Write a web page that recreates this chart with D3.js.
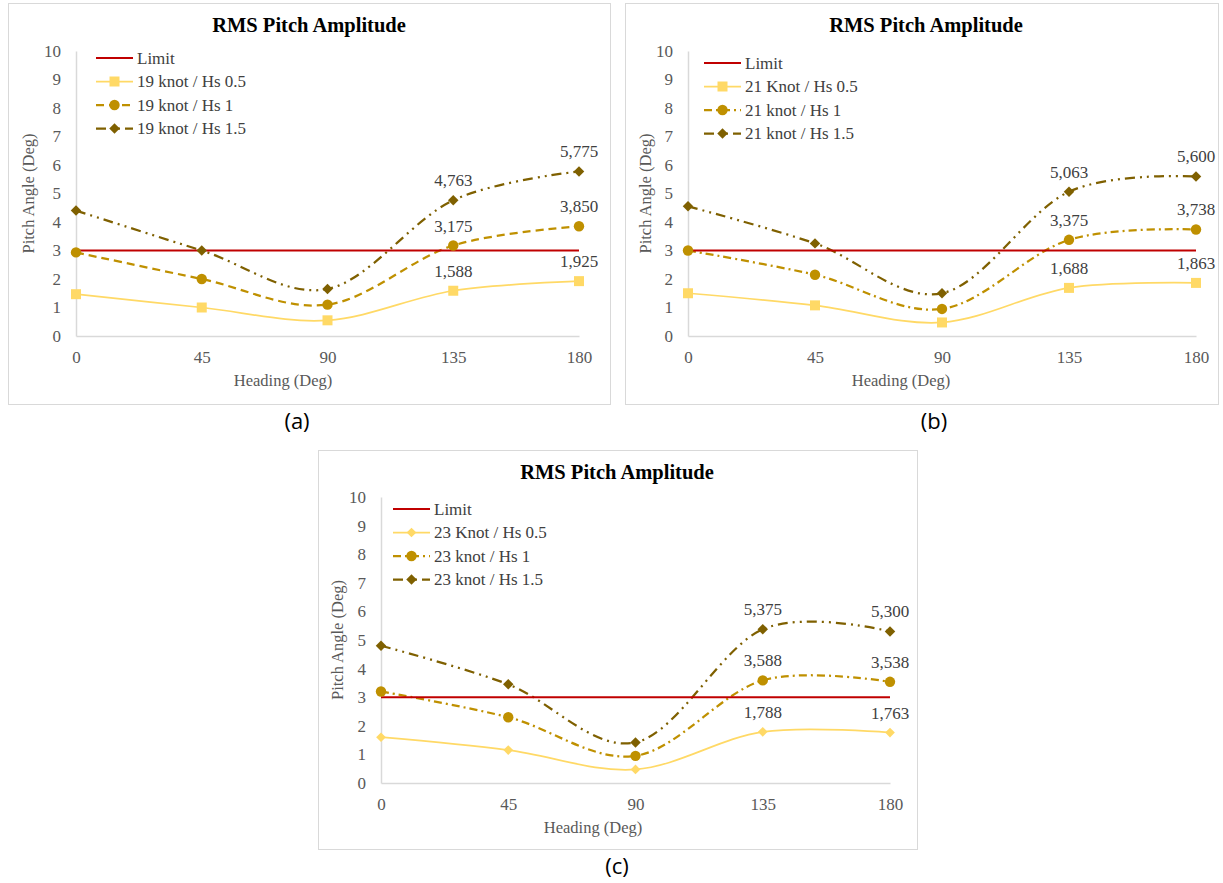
<!DOCTYPE html>
<html>
<head>
<meta charset="utf-8">
<script src="https://cdn.jsdelivr.net/npm/d3@7"></script>
<style>
  body { margin: 0; background: #fff; }
  svg { display: block; }
  .tick-label { font-family: "Liberation Serif", serif; font-size: 17px; fill: #595959; }
  .axis-title { font-family: "Liberation Serif", serif; font-size: 16.5px; fill: #595959; }
  .chart-title { font-family: "Liberation Serif", serif; font-size: 20.5px; font-weight: bold; fill: #000; }
  .legend-text { font-family: "Liberation Serif", serif; font-size: 17px; fill: #404040; }
  .data-label { font-family: "Liberation Serif", serif; font-size: 17px; fill: #404040; }
  .caption { font-family: "Open Sans", sans-serif; font-size: 22px; fill: #000; }
</style>
</head>
<body>
<svg id="fig" width="1223" height="883"></svg>
<script>
/* ---------- data ---------- */
const headings = [0, 45, 90, 135, 180];
const yTickValues = [0, 1, 2, 3, 4, 5, 6, 7, 8, 9, 10];
const limitValues = [3, 3, 3, 3, 3];

// (a) 19 knot
const knot19Hs05 = [1.467, 1.0, 0.55, 1.588, 1.925];
const knot19Hs1 = [2.933, 2.0, 1.1, 3.175, 3.85];
const knot19Hs15 = [4.4, 3.0, 1.65, 4.763, 5.775];
const names19 = ["Limit", "19 knot / Hs 0.5", "19 knot / Hs 1", "19 knot / Hs 1.5"];

// (b) 21 knot
const knot21Hs05 = [1.5, 1.075, 0.475, 1.688, 1.863];
const knot21Hs1 = [3.0, 2.15, 0.95, 3.375, 3.738];
const knot21Hs15 = [4.55, 3.25, 1.5, 5.063, 5.6];
const names21 = ["Limit", "21 Knot / Hs 0.5", "21 knot / Hs 1", "21 knot / Hs 1.5"];

// (c) 23 knot
const knot23Hs05 = [1.6, 1.15, 0.475, 1.788, 1.763];
const knot23Hs1 = [3.2, 2.3, 0.95, 3.588, 3.538];
const knot23Hs15 = [4.8, 3.45, 1.42, 5.375, 5.3];
const names23 = ["Limit", "23 Knot / Hs 0.5", "23 knot / Hs 1", "23 knot / Hs 1.5"];

const labelledHeadings = [135, 180];

/* ---------- styles ---------- */
const colLimit = "#c00000", col05 = "#ffd966", col1 = "#bf9000", col15 = "#7f6000";
const dashDash = "8,5", dashDot = "8,4,2,4", dashDotDot = "10,5,2,5,2,5";

/* ---------- panel layout ---------- */
const panels = [
  { frame: [8, 3, 602, 401], plot: { left: 76, right: 579, top: 51, bottom: 336 },
    titleX: 309, titleY: 32, xTitleX: 283, yTitleX: 28, legendX: 96, legendY: 58,
    caption: "(a)", capX: 297, capY: 429,
    series: [
      { name: names19[0], values: limitValues, color: colLimit, width: 2, dash: null, marker: null },
      { name: names19[1], values: knot19Hs05, color: col05, width: 1.75, dash: null, marker: "square" },
      { name: names19[2], values: knot19Hs1, color: col1, width: 2.25, dash: dashDash, marker: "circle" },
      { name: names19[3], values: knot19Hs15, color: col15, width: 2.25, dash: dashDotDot, marker: "diamond" }
    ] },
  { frame: [625, 3, 593, 401], plot: { left: 688, right: 1196, top: 51, bottom: 336 },
    titleX: 926, titleY: 32, xTitleX: 901, yTitleX: 645, legendX: 704, legendY: 63,
    caption: "(b)", capX: 934, capY: 429,
    series: [
      { name: names21[0], values: limitValues, color: colLimit, width: 2, dash: null, marker: null },
      { name: names21[1], values: knot21Hs05, color: col05, width: 1.75, dash: null, marker: "square" },
      { name: names21[2], values: knot21Hs1, color: col1, width: 2.25, dash: dashDot, marker: "circle" },
      { name: names21[3], values: knot21Hs15, color: col15, width: 2.25, dash: dashDotDot, marker: "diamond" }
    ] },
  { frame: [318, 450, 599, 399], plot: { left: 381, right: 890, top: 497, bottom: 783 },
    titleX: 617, titleY: 479, xTitleX: 593, yTitleX: 337, legendX: 393, legendY: 509,
    caption: "(c)", capX: 617, capY: 874,
    series: [
      { name: names23[0], values: limitValues, color: colLimit, width: 2, dash: null, marker: null },
      { name: names23[1], values: knot23Hs05, color: col05, width: 1.75, dash: null, marker: "diamondSmall" },
      { name: names23[2], values: knot23Hs1, color: col1, width: 2.25, dash: dashDot, marker: "circle" },
      { name: names23[3], values: knot23Hs15, color: col15, width: 2.25, dash: dashDotDot, marker: "diamond" }
    ] }
];

const svg = d3.select("#fig");
const fmt = v => d3.format(".3f")(v).replace(".", ",");

function symbolFor(kind) {
  if (kind === "square") return d3.symbol(d3.symbolSquare, 100);
  if (kind === "circle") return d3.symbol(d3.symbolCircle, 85);
  if (kind === "diamond") return d3.symbol(d3.symbolDiamond2, 70);
  if (kind === "diamondSmall") return d3.symbol(d3.symbolDiamond2, 60);
  return null;
}

function drawPanel(p) {
  const g = svg.append("g");
  const [fx, fy, fw, fh] = p.frame;
  g.append("rect").attr("x", fx + 0.5).attr("y", fy + 0.5).attr("width", fw).attr("height", fh)
    .attr("fill", "#fff").attr("stroke", "#d9d9d9");

  const x = d3.scaleLinear().domain([0, 180]).range([p.plot.left, p.plot.right]);
  const y = d3.scaleLinear().domain([0, 10]).range([p.plot.bottom, p.plot.top]);

  // axes (no ticks, light grey lines)
  const xAxis = d3.axisBottom(x).tickValues(headings).tickSize(0).tickPadding(15);
  const yAxis = d3.axisLeft(y).tickValues(yTickValues).tickSize(0).tickPadding(15);
  const gx = g.append("g").attr("transform", `translate(0,${p.plot.bottom})`).call(xAxis);
  const gy = g.append("g").attr("transform", `translate(${p.plot.left},0)`).call(yAxis);
  [gx, gy].forEach(a => {
    a.select(".domain").attr("stroke", "#d9d9d9").attr("stroke-width", 1.5);
    a.selectAll("text").attr("class", "tick-label").attr("font-family", null).attr("font-size", null);
  });

  g.append("text").attr("class", "chart-title").attr("x", p.titleX).attr("y", p.titleY)
    .attr("text-anchor", "middle").text("RMS Pitch Amplitude");
  g.append("text").attr("class", "axis-title").attr("x", p.xTitleX).attr("y", p.plot.bottom + 50)
    .attr("text-anchor", "middle").text("Heading (Deg)");
  g.append("text").attr("class", "axis-title")
    .attr("transform", `translate(${p.yTitleX},${(p.plot.top + p.plot.bottom) / 2}) rotate(-90)`)
    .attr("text-anchor", "middle").attr("dy", "0.35em").text("Pitch Angle (Deg)");

  const line = d3.line().x((d, i) => x(headings[i])).y(d => y(d)).curve(d3.curveCardinal.tension(0));

  // draw series in reverse so Limit sits on top like the reference
  p.series.slice().reverse().forEach(s => {
    g.append("path").datum(s.values).attr("d", line).attr("fill", "none")
      .attr("stroke", s.color).attr("stroke-width", s.width)
      .attr("stroke-dasharray", s.dash);
  });
  p.series.forEach(s => {
    const sym = symbolFor(s.marker);
    if (!sym) return;
    g.selectAll(null).data(s.values).join("path")
      .attr("d", sym)
      .attr("transform", (d, i) => `translate(${x(headings[i])},${y(d)})`)
      .attr("fill", s.color);
    g.selectAll(null).data(s.values.map((v, i) => ({ h: headings[i], v })).filter(d => labelledHeadings.includes(d.h)))
      .join("text").attr("class", "data-label")
      .attr("x", d => x(d.h)).attr("y", d => y(d.v) - 14)
      .attr("text-anchor", "middle").text(d => fmt(d.v));
  });

  // legend
  const lg = g.append("g").attr("transform", `translate(${p.legendX},${p.legendY})`);
  p.series.forEach((s, i) => {
    const row = lg.append("g").attr("transform", `translate(0,${i * 23.5})`);
    row.append("line").attr("x1", 0).attr("x2", 37).attr("y1", 0).attr("y2", 0)
      .attr("stroke", s.color).attr("stroke-width", s.width).attr("stroke-dasharray", s.dash);
    const sym = symbolFor(s.marker);
    if (sym) row.append("path").attr("d", sym).attr("transform", "translate(18.5,0)").attr("fill", s.color);
    row.append("text").attr("class", "legend-text").attr("x", 41).attr("dy", "0.35em").text(s.name);
  });

  svg.append("text").attr("class", "caption").attr("x", p.capX).attr("y", p.capY)
    .attr("text-anchor", "middle").text(p.caption);
}

panels.forEach(drawPanel);
</script>
</body>
</html>
